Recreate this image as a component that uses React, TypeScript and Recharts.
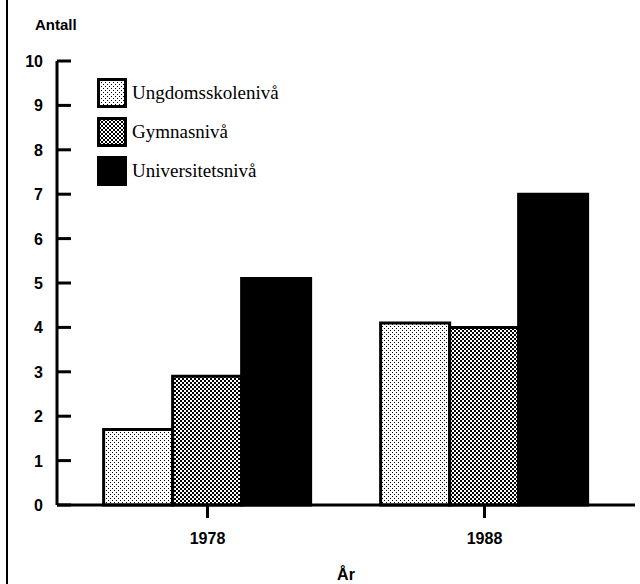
import React from 'react';
import { BarChart, Bar, XAxis, YAxis, Legend, Label } from 'recharts';

const years = ['1978', '1988'];
const ungdomsskole = [1.7, 4.1];
const gymnas = [2.9, 4.0];
const universitet = [5.1, 7.0];
const yTicks = [0, 1, 2, 3, 4, 5, 6, 7, 8, 9, 10];
const seriesNames = ['Ungdomsskolenivå', 'Gymnasnivå', 'Universitetsnivå'];
const seriesKeys = ['u', 'g', 'v'];
const yTitle = 'Antall';
const xTitle = 'År';

const data = years.map((y, i) => ({ year: y, u: ungdomsskole[i], g: gymnas[i], v: universitet[i] }));

const SANS = "'Liberation Sans', Arial, Helvetica, sans-serif";
const SERIF = "'Liberation Serif', 'Times New Roman', serif";

const fills = ['url(#pLight)', 'url(#pMed)', '#000'];
const legendFills = ['url(#lpLight)', 'url(#lpMed)', '#000'];

const PatternDefs = ({ prefix }: { prefix: string }) => (
  <defs>
    <pattern id={`${prefix}Light`} width={4} height={4} patternUnits="userSpaceOnUse">
      <rect width={4} height={4} fill="#fff" />
      <rect x={0} y={0} width={1} height={1} fill="#000" />
      <rect x={2} y={2} width={1} height={1} fill="#000" />
    </pattern>
    <pattern id={`${prefix}Med`} width={4} height={4} patternUnits="userSpaceOnUse">
      <rect width={4} height={4} fill="#fff" />
      <rect x={0} y={0} width={2} height={2} fill="#000" />
      <rect x={2} y={2} width={2} height={2} fill="#000" />
    </pattern>
  </defs>
);

const YTick = (props: any) => {
  const { x, y, payload } = props;
  return (
    <g>
      <line x1={x + 14} x2={x + 28} y1={y} y2={y} stroke="#000" strokeWidth={3} />
      <text x={x} y={y} dy={6} textAnchor="end" fontFamily={SANS} fontWeight="bold" fontSize={16} fill="#000">
        {payload.value}
      </text>
    </g>
  );
};

const LegendContent = () => (
  <div style={{ display: 'flex', flexDirection: 'column', gap: 9 }}>
    {seriesNames.map((name, i) => (
      <div key={name} style={{ display: 'flex', alignItems: 'center', height: 30 }}>
        <svg width={30} height={30} style={{ display: 'block' }}>
          {i === 0 && <PatternDefs prefix="lp" />}
          <rect x={1.5} y={1.5} width={27} height={27} fill={legendFills[i]} stroke="#000" strokeWidth={3} />
        </svg>
        <span style={{ fontFamily: SERIF, fontSize: 19, color: '#000', marginLeft: 5, lineHeight: '30px', whiteSpace: 'nowrap' }}>{name}</span>
      </div>
    ))}
  </div>
);

export default function App() {
  return (
    <div style={{ position: 'absolute', left: 0, top: 0, width: 640, height: 584, background: '#fff' }}>
      <div style={{ position: 'absolute', left: 6, top: 0, width: 2, height: 584, background: '#000' }} />
      <BarChart
        width={640}
        height={584}
        data={data}
        margin={{ top: 61, right: 5, bottom: 0, left: 7 }}
        barCategoryGap="12.5%"
        barGap={0}
      >
        <PatternDefs prefix="p" />
        <XAxis
          dataKey="year"
          height={79}
          padding={{ left: 12, right: 12 }}
          axisLine={{ stroke: '#000', strokeWidth: 3 }}
          tickLine={{ stroke: '#000', strokeWidth: 3 }}
          tickSize={13}
          tickMargin={15}
          tick={{ fill: '#000', fontFamily: SANS, fontWeight: 'bold', fontSize: 16 }}
        >
          <Label value={xTitle} position="insideBottom" offset={4} fill="#000" fontFamily={SANS} fontWeight="bold" fontSize={16} />
        </XAxis>
        <XAxis
          xAxisId="top"
          dataKey="year"
          orientation="top"
          height={0}
          tick={false}
          tickLine={false}
          axisLine={{ stroke: '#000', strokeWidth: 3 }}
        />
        <YAxis
          domain={[0, 10]}
          ticks={yTicks}
          width={50}
          interval={0}
          axisLine={{ stroke: '#000', strokeWidth: 3 }}
          tickLine={false}
          tickSize={14}
          tickMargin={0}
          tick={<YTick />}
        >
          <Label
            content={(p: any) => {
              const vb = p.viewBox || { x: 7, y: 61 };
              return (
                <text x={vb.x + 28} y={vb.y - 31} fontFamily={SANS} fontWeight="bold" fontSize={15} fill="#000">
                  {yTitle}
                </text>
              );
            }}
          />
        </YAxis>
        <YAxis
          yAxisId="right"
          orientation="right"
          domain={[0, 10]}
          width={0}
          tick={false}
          tickLine={false}
          axisLine={{ stroke: '#000', strokeWidth: 3 }}
        />
        <Legend
          layout="vertical"
          align="center"
          verticalAlign="middle"
          content={<LegendContent />}
          wrapperStyle={{ left: 97, top: 78, width: 'auto' }}
        />
        {seriesKeys.map((k, i) => (
          <Bar
            key={k}
            dataKey={k}
            name={seriesNames[i]}
            fill={fills[i]}
            stroke="#000"
            strokeWidth={3}
            isAnimationActive={false}
          />
        ))}
      </BarChart>
    </div>
  );
}
